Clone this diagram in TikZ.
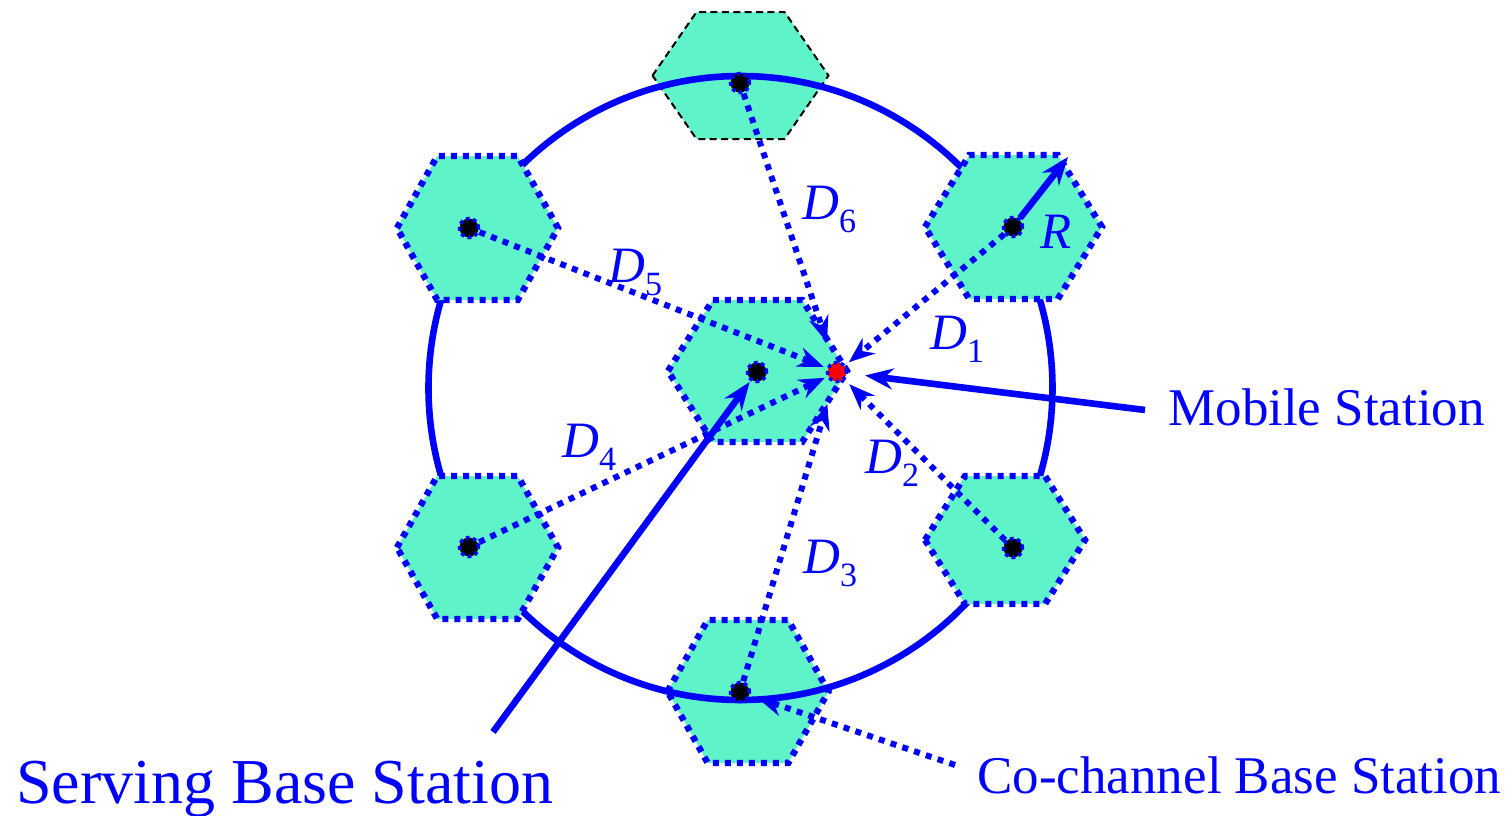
\documentclass[tikz,border=0pt]{standalone}
\usepackage{fontspec}
\setmainfont{Liberation Serif}
\usetikzlibrary{arrows.meta}
\definecolor{hexfill}{RGB}{94,243,200}
\newcommand\hexcell[5]{%
  \path[#1] ({#2-#4},{#3}) -- ({#2-#4/2},{#3-#5}) -- ({#2+#4/2},{#3-#5}) --
    ({#2+#4},{#3}) -- ({#2+#4/2},{#3+#5}) -- ({#2-#4/2},{#3+#5}) -- cycle;}
\newcommand\Dlab[1]{\textit{D}\raisebox{-6.5pt}{\fontsize{17}{17}\selectfont #1}}
\begin{document}
\begin{tikzpicture}[x=0.5pt,y=-0.5pt,
  celldot/.style={fill=hexfill, draw=blue, line width=3.2pt, dash pattern=on 3pt off 3pt},
  celldash/.style={fill=hexfill, draw=black, line width=1pt, dash pattern=on 3.5pt off 2.2pt},
  ring/.style={draw=blue, line width=3.3pt},
  bs/.style={circle, fill=black, draw=blue, line width=1.8pt, dash pattern=on 1.8pt off 1.8pt, minimum size=9.5pt, inner sep=0pt},
  msdot/.style={bs, fill=red},
  dline/.style={draw=blue, line width=3pt, dash pattern=on 3pt off 3.2pt, -{Stealth[length=13pt,width=10pt]}},
  sarrow/.style={draw=blue, line width=3.3pt, -{Stealth[length=14pt,width=10.5pt]}},
  lab/.style={text=blue, inner sep=0pt, anchor=base west},
  dlab/.style={lab, font=\fontsize{25.5}{28}\selectfont},
  biglab/.style={lab, font=\fontsize{26.5}{30}\selectfont},
  hugelab/.style={lab, font=\fontsize{32}{36}\selectfont}]
\useasboundingbox (0,0) rectangle (1512,815);
% cells under the ring
\hexcell{celldash}{740.5}{75.5}{88}{63.5}
\hexcell{celldot}{748}{691.5}{80.5}{71.5}
% ring
\draw[ring] (740.5,388) circle[radius=312];
% side cells
\hexcell{celldot}{477.5}{228}{80.5}{72}
\hexcell{celldot}{477.5}{547.5}{80.5}{71.5}
\hexcell{celldot}{1013.5}{227}{88.5}{72}
\hexcell{celldot}{1005}{540}{80}{64}
% center cell
\hexcell{celldot}{757.5}{371}{89.5}{71}
% stations
\node[bs] (bsT) at (740,83) {};
\node[bs] (bsUL) at (469,228) {};
\node[bs] (bsUR) at (1013,227) {};
\node[bs] (bsLL) at (469,547) {};
\node[bs] (bsLR) at (1013,548) {};
\node[bs] (bsB) at (740,692) {};
\node[bs] (bsC) at (757,372) {};
\node[msdot] (ms) at (837,372) {};
% interference paths
\draw[dline, shorten >=10pt] (bsT) -- (ms);
\draw[dline, shorten >=1.5pt] (bsUL) -- (ms);
\draw[dline, shorten >=2pt] (bsUR) -- (ms);
\draw[dline, shorten >=1pt] (bsLL) -- (ms);
\draw[dline, shorten >=11pt] (bsB) -- (ms);
\draw[dline, shorten >=3pt] (bsLR) -- (ms);
% radius
\coordinate (rEnd) at (1068,157);
\draw[sarrow] (bsUR) -- (rEnd);
% callouts
\coordinate (msFrom) at (1145,410);
\coordinate (sFrom) at (493,732);
\coordinate (cFrom) at (955,765);
\draw[sarrow, shorten >=8.5pt] (msFrom) -- (ms);
\draw[sarrow, shorten >=0.5pt] (sFrom) -- (bsC);
\draw[dline, shorten >=3.5pt] (cFrom) -- (bsB);
% labels
\node[dlab] (l6) at (802,219) {\Dlab{6}};
\node[dlab] (l5) at (608,282) {\Dlab{5}};
\node[dlab] (l1) at (930,349) {\Dlab{1}};
\node[dlab] (l4) at (562,457) {\Dlab{4}};
\node[dlab] (l2) at (865,473) {\Dlab{2}};
\node[dlab] (l3) at (803,573) {\Dlab{3}};
\node[dlab] (lR) at (1040,248) {\textit{R}};
\node[biglab] (tMS) at (1168,425) {Mobile Station};
\node[hugelab] (tSBS) at (16,803) {Serving Base Station};
\node[biglab] (tCBS) at (977,793) {Co-channel Base Station};
\end{tikzpicture}
\end{document}
